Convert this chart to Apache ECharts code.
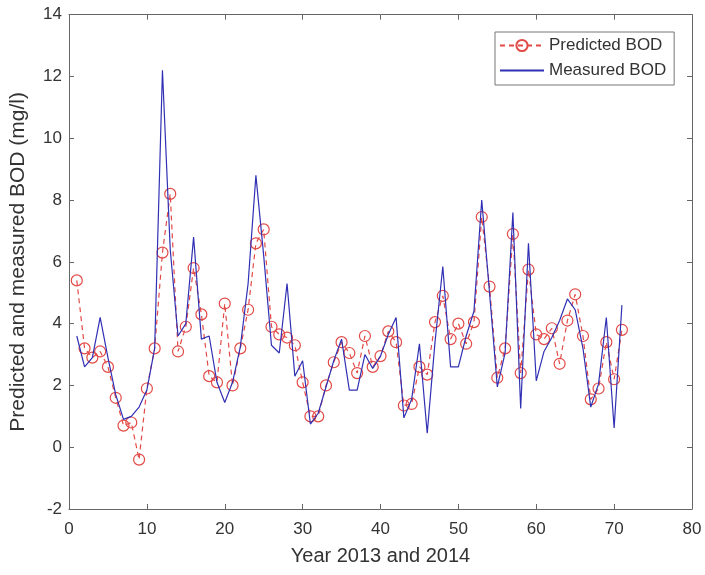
<!DOCTYPE html>
<html>
<head>
<meta charset="utf-8">
<script src="https://cdn.jsdelivr.net/npm/echarts@6/dist/echarts.min.js"></script>
<style>
html,body{margin:0;padding:0;background:#fff;}
#chart{width:705px;height:575px;}
</style>
</head>
<body>
<div id="chart"></div>
<script>
var samples = [1,2,3,4,5,6,7,8,9,10,11,12,13,14,15,16,17,18,19,20,21,22,23,24,25,26,27,28,29,30,31,32,33,34,35,36,37,38,39,40,41,42,43,44,45,46,47,48,49,50,51,52,53,54,55,56,57,58,59,60,61,62,63,64,65,66,67,68,69,70,71];
var predictedBOD = [5.4,3.2,2.9,3.1,2.6,1.6,0.7,0.8,-0.4,1.9,3.2,6.3,8.2,3.1,3.9,5.8,4.3,2.3,2.1,4.65,2.0,3.2,4.45,6.6,7.05,3.9,3.65,3.55,3.3,2.1,1.0,1.0,2.0,2.75,3.4,3.05,2.4,3.6,2.6,2.95,3.75,3.4,1.35,1.4,2.6,2.35,4.05,4.9,3.5,4.0,3.35,4.05,7.45,5.2,2.25,3.2,6.9,2.4,5.75,3.65,3.5,3.85,2.7,4.1,4.95,3.6,1.55,1.9,3.4,2.2,3.8];
var measuredBOD = [3.6,2.6,2.9,4.2,2.9,1.7,0.9,1.0,1.3,1.85,3.2,12.2,6.4,3.6,4.0,6.8,3.5,3.6,2.1,1.45,2.1,3.25,5.3,8.8,6.2,3.3,3.05,5.3,2.3,2.8,0.75,1.1,1.95,2.8,3.5,1.85,1.85,3.0,2.55,2.95,3.65,4.2,0.95,1.55,3.35,0.45,3.4,5.85,2.6,2.6,3.6,4.4,8.0,5.0,1.95,3.05,7.6,1.25,6.6,2.15,3.1,3.55,4.1,4.8,4.45,3.2,1.3,2.05,4.2,0.62,4.6];
var seriesNames = ['Predicted BOD', 'Measured BOD'];
var xTitle = 'Year 2013 and 2014';
var yTitle = 'Predicted and measured BOD (mg/l)';

function pairs(xs, ys){ return xs.map(function(x,i){ return [x, ys[i]]; }); }

var axisColor = '#666';
var textColor = '#333';
var font = 'Liberation Sans, Arial, sans-serif';
var redColor = '#e24a46';
var blueColor = '#3030b4';

var chart = echarts.init(document.getElementById('chart'), null, {renderer:'canvas'});
chart.setOption({
  animation: false,
  backgroundColor: '#fff',
  grid: {left: 66.7, right: 13, top: 14.7, bottom: 66, containLabel: false},
  legend: {
    left: 495, top: 32, orient: 'vertical',
    backgroundColor: '#fff', borderColor: '#777', borderWidth: 1,
    padding: [5, 8, 6, 4], itemGap: 8, itemWidth: 44, itemHeight: 14,
    textStyle: {fontFamily: font, fontSize: 17, color: textColor},
    data: [
      {name: seriesNames[0]},
      {name: seriesNames[1], itemStyle: {color: 'rgba(0,0,0,0)', borderWidth: 0, opacity: 0}}
    ]
  },
  xAxis: [{
    type: 'value', min: 0, max: 80, interval: 10, position: 'bottom',
    axisLine: {show: true, onZero: false, lineStyle: {color: axisColor, width: 1}},
    axisTick: {show: true, inside: true, length: 5, lineStyle: {color: axisColor}},
    axisLabel: {fontFamily: font, fontSize: 17, color: textColor, margin: 12},
    splitLine: {show: false},
    name: xTitle, nameLocation: 'middle', nameGap: 37,
    nameTextStyle: {fontFamily: font, fontSize: 20, color: textColor}
  },{
    type: 'value', min: 0, max: 80, interval: 10, position: 'top',
    axisLine: {show: true, onZero: false, lineStyle: {color: axisColor, width: 1}},
    axisTick: {show: true, inside: true, length: 5, lineStyle: {color: axisColor}},
    axisLabel: {show: false}, splitLine: {show: false}
  }],
  yAxis: [{
    type: 'value', min: -2, max: 14, interval: 2, position: 'left',
    axisLine: {show: true, onZero: false, lineStyle: {color: axisColor, width: 1}},
    axisTick: {show: true, inside: true, length: 5, lineStyle: {color: axisColor}},
    axisLabel: {fontFamily: font, fontSize: 17, color: textColor, margin: 7},
    splitLine: {show: false},
    name: yTitle, nameLocation: 'middle', nameGap: 40, nameRotate: 90,
    nameTextStyle: {fontFamily: font, fontSize: 21, color: textColor}
  },{
    type: 'value', min: -2, max: 14, interval: 2, position: 'right',
    axisLine: {show: true, onZero: false, lineStyle: {color: axisColor, width: 1}},
    axisTick: {show: true, inside: true, length: 5, lineStyle: {color: axisColor}},
    axisLabel: {show: false}, splitLine: {show: false}
  }],
  series: [{
    name: seriesNames[0], type: 'line', xAxisIndex: 0, yAxisIndex: 0,
    data: pairs(samples, predictedBOD),
    symbol: 'circle', symbolSize: 11, showAllSymbol: true,
    lineStyle: {color: redColor, width: 1.2, type: [5, 4]},
    itemStyle: {color: 'rgba(0,0,0,0)', borderColor: redColor, borderWidth: 1.2},
    z: 2
  },{
    name: seriesNames[1], type: 'line', xAxisIndex: 0, yAxisIndex: 0,
    data: pairs(samples, measuredBOD),
    symbol: 'none', showSymbol: false,
    lineStyle: {color: blueColor, width: 1.2},
    itemStyle: {color: blueColor},
    z: 3
  }]
});
</script>
</body>
</html>
